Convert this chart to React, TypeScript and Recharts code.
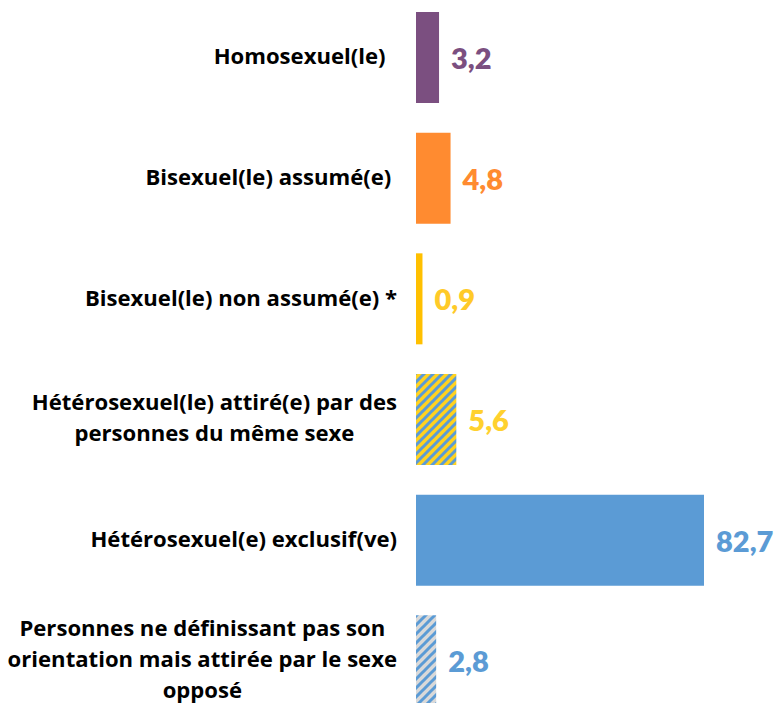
import React from 'react';
import { BarChart, Bar, XAxis, YAxis, Cell, LabelList } from 'recharts';

const categories: string[][] = [
  ['Homosexuel(le)  '],
  ['Bisexuel(le) assumé(e) '],
  ['Bisexuel(le) non assumé(e) *'],
  ['Hétérosexuel(le) attiré(e) par des', 'personnes du même sexe'],
  ['Hétérosexuel(e) exclusif(ve)'],
  ['Personnes ne définissant pas son', 'orientation mais attirée par le sexe', 'opposé'],
];
const values: number[] = [3.2, 4.8, 0.9, 5.6, 82.7, 2.8];
const axisMax = 40;

const fills = ['#7B4F80', '#FF8B30', '#FFC000', 'url(#hatchYellow)', '#5B9BD5', 'url(#hatchGray)'];
const labelColors = ['#7B4F80', '#FF8B30', '#FFCA28', '#FFD12E', '#5B9BD5', '#5B9BD5'];

const data = categories.map((lines, i) => ({ name: String(i), lines, value: values[i] }));

const W = 780;
const H = 724;
const YW = 416;
const MR = 76;
const PLOT_RIGHT = W - MR;
const LABEL_RIGHT = YW - 19;
const FONT = '"Open Sans", sans-serif';
const VFONT = 'Lato, "Open Sans", sans-serif';
const LABEL_SIZE = 22.1;
const LINE_H = 31;

let ctx: CanvasRenderingContext2D | null = null;
function measure(t: string): number {
  if (!ctx) {
    const c = document.createElement('canvas');
    ctx = c.getContext('2d');
  }
  if (!ctx) return t.length * 11;
  ctx.font = `700 ${LABEL_SIZE}px "Open Sans"`;
  return ctx.measureText(t).width;
}

const Tick = (props: any) => {
  const { y, payload } = props;
  const idx = Number(payload.value);
  const lines = categories[idx];
  const n = lines.length;
  if (n === 1) {
    return (
      <text x={LABEL_RIGHT} y={y + 7} textAnchor="end" fontFamily={FONT} fontWeight={700}
        fontSize={LABEL_SIZE} fill="#000" style={{ whiteSpace: 'pre' }}>
        {lines[0]}
      </text>
    );
  }
  const maxW = Math.max(...lines.map(measure));
  const cx = LABEL_RIGHT - maxW / 2;
  return (
    <g>
      {lines.map((l, i) => (
        <text key={i} x={cx} y={y + 6 + (i - (n - 1) / 2) * LINE_H} textAnchor="middle"
          fontFamily={FONT} fontWeight={700} fontSize={LABEL_SIZE} fill="#000">
          {l}
        </text>
      ))}
    </g>
  );
};

const ValueLabel = (props: any) => {
  const { x, y, width, height, index, value } = props;
  const end = Math.min(x + width, PLOT_RIGHT);
  return (
    <text x={end + 12} y={y + height / 2} dominantBaseline="central" textAnchor="start"
      fontFamily={VFONT} fontWeight={800} fontSize={29} fill={labelColors[index]}>
      {Number(value).toFixed(1).replace('.', ',')}
    </text>
  );
};

export default function App() {
  return (
    <div style={{ position: 'fixed', left: 0, top: 0, width: 780, height: 703, overflow: 'hidden', background: '#fff' }}>
      <div style={{ marginTop: -3 }}>
        <BarChart width={W} height={H} data={data} layout="vertical"
          margin={{ top: 0, right: MR, bottom: 0, left: 0 }}>
          <defs>
            <pattern id="hatchYellow" patternUnits="userSpaceOnUse" width={9} height={9}>
              <rect width={9} height={9} fill="#FFD21F" />
              <path d="M-2,2 l4,-4 M0,9 l9,-9 M7,11 l4,-4" stroke="#5B9BD5" strokeWidth={3} />
            </pattern>
            <pattern id="hatchGray" patternUnits="userSpaceOnUse" width={9} height={9}>
              <rect width={9} height={9} fill="#D9D9D9" />
              <path d="M-2,2 l4,-4 M0,9 l9,-9 M7,11 l4,-4" stroke="#5B9BD5" strokeWidth={3} />
            </pattern>
          </defs>
          <XAxis type="number" domain={[0, axisMax]} allowDataOverflow hide />
          <YAxis type="category" dataKey="name" width={YW} axisLine={false} tickLine={false}
            tick={<Tick />} interval={0} />
          <Bar dataKey="value" barSize={91} isAnimationActive={false}>
            {data.map((d, i) => (
              <Cell key={i} fill={fills[i]} />
            ))}
            <LabelList dataKey="value" content={<ValueLabel />} />
          </Bar>
        </BarChart>
      </div>
    </div>
  );
}
